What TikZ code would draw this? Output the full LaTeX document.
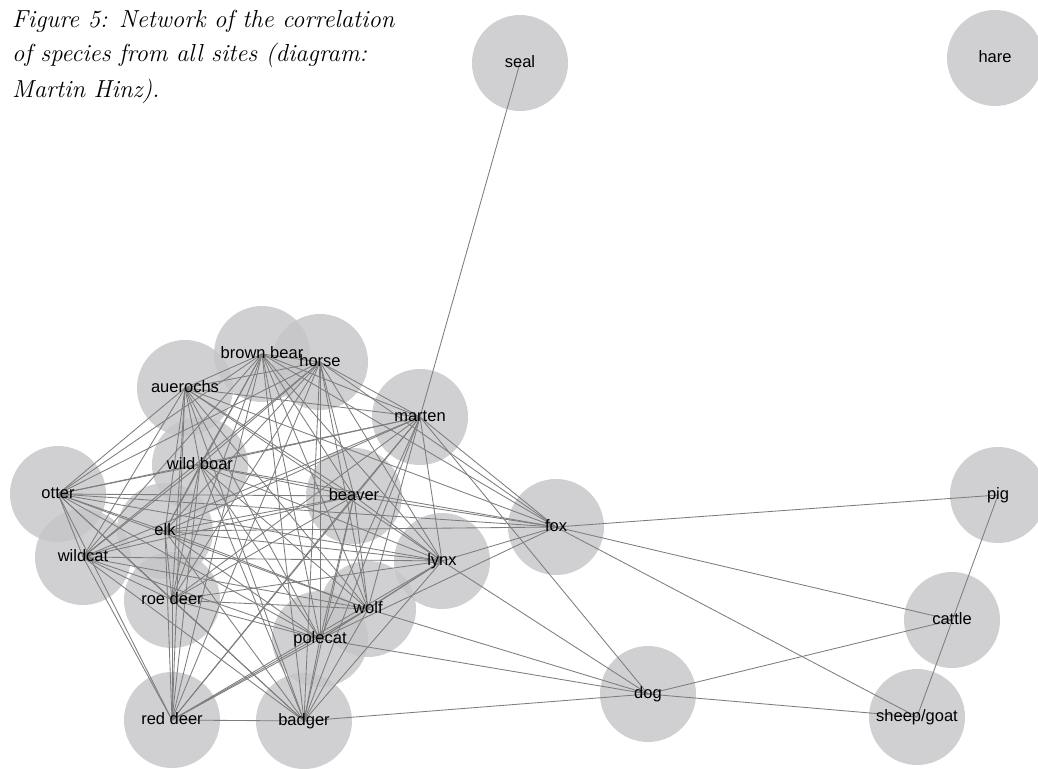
\documentclass[tikz,border=0pt]{standalone}
\usepackage{fontspec}
\newfontfamily\labfont{Liberation Sans}
\definecolor{ballc}{RGB}{197,197,199}
\definecolor{edgec}{RGB}{125,125,125}
\tikzset{
  ball/.style={circle, minimum size=96pt, inner sep=0pt, fill=ballc, fill opacity=0.8, draw=none},
  lab/.style={font=\labfont\fontsize{16.5}{16.5}\selectfont, inner sep=0pt, text=black, text height=12pt, text depth=3.5pt},
  link/.style={draw=edgec, line width=0.85pt},
  capt/.style={font=\fontsize{24.6}{30}\selectfont\itshape, anchor=base west, inner sep=0pt}
}
\begin{document}
\begin{tikzpicture}[x=1pt,y=-1pt]
\useasboundingbox[fill=white] (0,0) rectangle (1038,768);
\foreach \n/\x/\y in {seal/520/63, hare/995/58, bb/262/354, horse/320/362, au/185/388,
  marten/420/417, wb/200/465, otter/58/494, beaver/354/496, fox/556/527, elk/165/531,
  wildcat/83/557, lynx/442/561, roe/172/600, wolf/368/609, polecat/320/639,
  cattle/952/620, pig/998/495, dog/648/694, sheep/917/717, rd/172/720, badger/304/721}
  \node[ball] (\n) at (\x,\y) {};
% dense cluster
\foreach \a [count=\i] in {au,bb,horse,marten,wb,otter,beaver,elk,wildcat,lynx,roe,wolf,polecat,rd,badger}{
  \foreach \b [count=\j] in {au,bb,horse,marten,wb,otter,beaver,elk,wildcat,lynx,roe,wolf,polecat,rd,badger}{
    \ifnum\j>\i \draw[link] (\a.center) -- (\b.center);\fi
  }
}
% other connectors
\foreach \a/\b in {seal/marten, pig/fox, pig/sheep, cattle/fox, cattle/dog, sheep/fox, sheep/dog,
  dog/marten, dog/lynx, dog/wolf, dog/polecat, dog/badger,
  fox/marten, fox/horse, fox/bb, fox/au, fox/wb, fox/beaver, fox/otter, fox/elk, fox/lynx, fox/polecat}
  \draw[link] (\a.center) -- (\b.center);
% labels
\node[lab] (l-seal) at (seal) {seal};
\node[lab] (l-hare) at (hare) {hare};
\node[lab] (l-bb) at (bb) {brown bear};
\node[lab] (l-horse) at (horse) {horse};
\node[lab] (l-au) at (au) {auerochs};
\node[lab] (l-marten) at (marten) {marten};
\node[lab] (l-wb) at (wb) {wild boar};
\node[lab] (l-otter) at (otter) {otter};
\node[lab] (l-beaver) at (beaver) {beaver};
\node[lab] (l-fox) at (fox) {fox};
\node[lab] (l-elk) at (elk) {elk};
\node[lab] (l-wildcat) at (wildcat) {wildcat};
\node[lab] (l-lynx) at (lynx) {lynx};
\node[lab] (l-roe) at (roe) {roe deer};
\node[lab] (l-wolf) at (wolf) {wolf};
\node[lab] (l-polecat) at (polecat) {polecat};
\node[lab] (l-cattle) at (cattle) {cattle};
\node[lab] (l-pig) at (pig) {pig};
\node[lab] (l-dog) at (dog) {dog};
\node[lab] (l-sheep) at (sheep) {sheep/goat};
\node[lab] (l-rd) at (rd) {red deer};
\node[lab] (l-badger) at (badger) {badger};
% caption
\node[capt] (cap1) at (12,28) {Figure 5: Network of the correlation};
\node[capt] (cap2) at (12,62) {of species from all sites (diagram:};
\node[capt] (cap3) at (12,97) {Martin Hinz).};
\end{tikzpicture}
\end{document}
